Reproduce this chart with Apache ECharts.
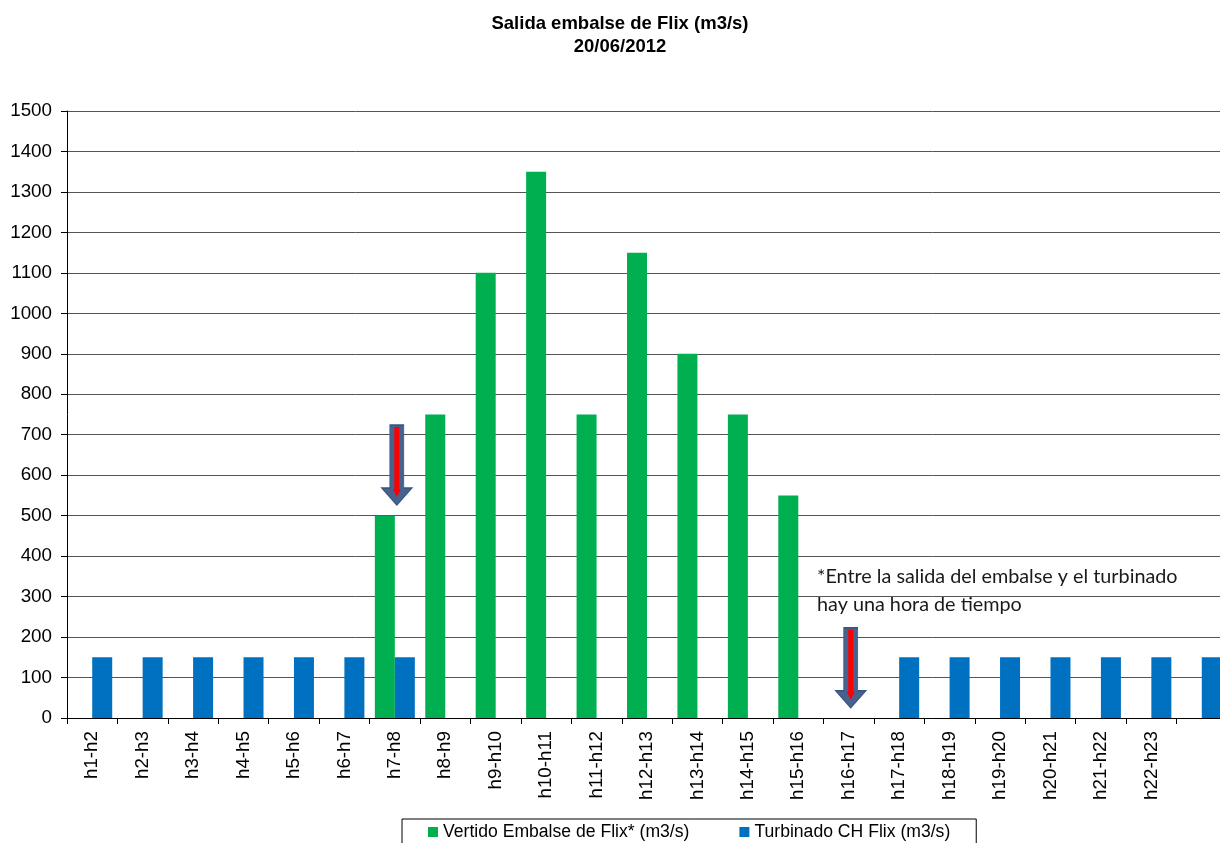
<!DOCTYPE html>
<html>
<head>
<meta charset="utf-8">
<script src="https://cdn.jsdelivr.net/npm/echarts@6/dist/echarts.min.js"></script>
<style>
  html, body { margin: 0; padding: 0; background: #fff; overflow: hidden; }
  #chart { width: 1220px; height: 843px; }
</style>
</head>
<body>
<div id="chart"></div>
<script>
const categories = ['h1-h2','h2-h3','h3-h4','h4-h5','h5-h6','h6-h7','h7-h8','h8-h9','h9-h10','h10-h11','h11-h12','h12-h13','h13-h14','h14-h15','h15-h16','h16-h17','h17-h18','h18-h19','h19-h20','h20-h21','h21-h22','h22-h23',''];
const vertido = [0,0,0,0,0,0,500,750,1100,1350,750,1150,900,750,550,0,0,0,0,0,0,0,0];
const turbinado = [150,150,150,150,150,150,150,0,0,0,0,0,0,0,0,0,150,150,150,150,150,150,150];
const seriesNames = ['Vertido Embalse de Flix* (m3/s)', 'Turbinado CH Flix (m3/s)'];
const arrowMarks = [['h7-h8', 625], ['h16-h17', 124]];
const noteLines = ['*Entre la salida del embalse y el turbinado', 'hay una hora de tiempo'];

const chart = echarts.init(document.getElementById('chart'), null, { renderer: 'canvas' });

const outerArrow = 'path://M8,0 L22,0 L22,63 L30,63 L15,80 L0,63 L8,63 Z';
const innerArrow = 'path://M1.5,0 L6.5,0 L6.5,62 L8,62 L4,70 L0,62 L1.5,62 Z';

const arrowData = [];
arrowMarks.forEach(function (a) {
  arrowData.push({
    coord: a, symbol: outerArrow, symbolSize: [30, 80], symbolOffset: [12, 0],
    itemStyle: { color: '#46638f', borderColor: '#3a5580', borderWidth: 1 }
  });
  arrowData.push({
    coord: a, symbol: innerArrow, symbolSize: [8, 70], symbolOffset: [12, -3],
    itemStyle: { color: '#ff0000' }
  });
});

const option = {
  backgroundColor: '#ffffff',
  animation: false,
  title: {
    text: 'Salida embalse de Flix (m3/s)\n20/06/2012',
    left: 615,
    textAlign: 'center',
    top: 7,
    textStyle: {
      fontFamily: 'Liberation Sans, Arial, sans-serif',
      fontSize: 18.5,
      fontWeight: 'bold',
      color: '#000',
      lineHeight: 23
    }
  },
  legend: {
    data: seriesNames,
    left: 402,
    top: 819,
    padding: [4, 26, 10, 26],
    itemGap: 50,
    itemWidth: 10,
    itemHeight: 10,
    icon: 'rect',
    borderColor: '#000',
    borderWidth: 1,
    textStyle: {
      fontFamily: 'Liberation Sans, Arial, sans-serif',
      fontSize: 17.6,
      color: '#000'
    }
  },
  grid: {
    left: 67,
    top: 111,
    height: 607,
    width: 1160,
    containLabel: false,
    outerBoundsMode: 'none'
  },
  xAxis: {
    type: 'category',
    data: categories,
    boundaryGap: true,
    axisLine: { lineStyle: { color: '#000', width: 1 } },
    axisTick: { show: true, alignWithLabel: false, length: 6, lineStyle: { color: '#000' } },
    axisLabel: {
      rotate: 90,
      margin: 13,
      interval: 0,
      fontFamily: 'Liberation Sans, Arial, sans-serif',
      fontSize: 18.8,
      color: '#000'
    },
    splitLine: { show: false }
  },
  yAxis: {
    type: 'value',
    min: 0,
    max: 1500,
    interval: 100,
    axisLine: { show: true, lineStyle: { color: '#000', width: 1 } },
    axisTick: { show: true, length: 6, lineStyle: { color: '#000' } },
    axisLabel: {
      margin: 15,
      formatter: function (v) { return String(v); },
      fontFamily: 'Liberation Sans, Arial, sans-serif',
      fontSize: 18.8,
      color: '#000'
    },
    splitLine: { show: true, lineStyle: { color: '#555555', width: 1 } }
  },
  series: [
    {
      name: seriesNames[0],
      type: 'bar',
      data: vertido,
      barWidth: 20,
      barGap: '0%',
      itemStyle: { color: '#00b050' },
      markPoint: {
        silent: true,
        label: { show: false },
        data: arrowData
      }
    },
    {
      name: seriesNames[1],
      type: 'bar',
      data: turbinado,
      barWidth: 20,
      barGap: '0%',
      itemStyle: { color: '#0070c0' }
    }
  ],
  graphic: [
    {
      type: 'text',
      left: 817,
      top: 563,
      z: 100,
      style: {
        text: noteLines.join('\n'),
        fontFamily: 'Lato, Open Sans, sans-serif',
        fontSize: 19.8,
        lineHeight: 28,
        fill: '#1a1a1a'
      }
    }
  ]
};

chart.setOption(option);
</script>
</body>
</html>
